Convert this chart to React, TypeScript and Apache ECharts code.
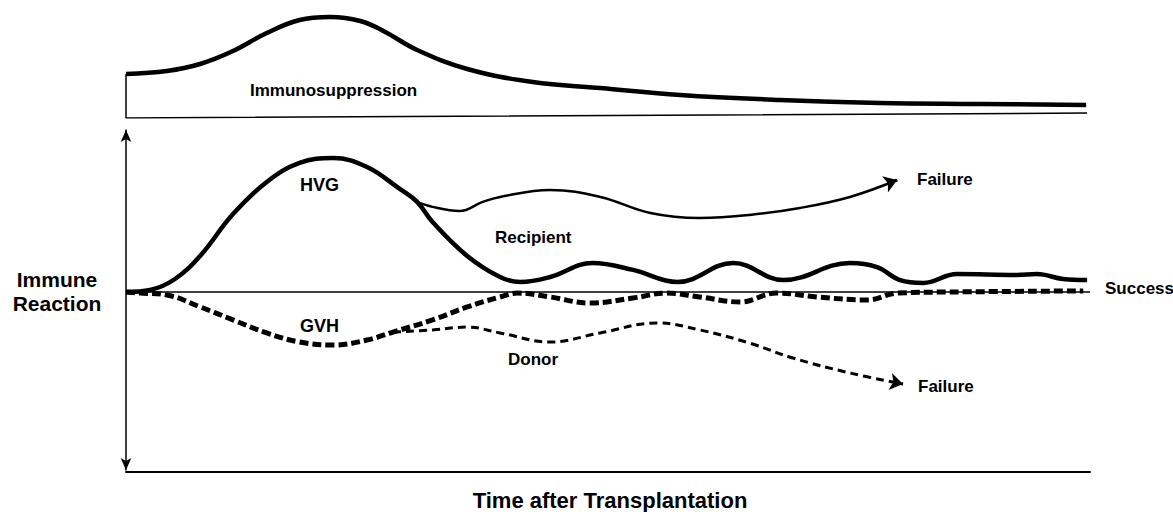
import React, { useEffect, useRef } from "react";
import * as echarts from "echarts";

// Time axis: 0..100 (arbitrary time after transplantation)
// Top panel: immunosuppression level 0..100
const immunoT = [0, 4.25, 7.68, 11.1, 14.6, 18.0, 21.2, 24.3, 26.7, 30.2, 35.4, 42.2, 49.2, 57.5, 67.8, 78.2, 88.6, 99.6];
const immunoV = [40.7, 43.5, 50, 62, 78.7, 90.7, 93.5, 89.8, 80.6, 63, 45.4, 33.3, 27.8, 21.3, 16.7, 13.9, 13, 12];

const topFrameT = [0, 0, 99.7];
const topFrameV = [40.7, 0, 4.6];

// Bottom panel: immune reaction (+ host-vs-graft, - graft-vs-host)
const baselineT = [0, 100];
const baselineV = [0, 0];

const hvgT = [0, 2.49, 5.08, 7.68, 11.1, 14.6, 18.0, 21.5, 25.0, 28.4, 30.2, 31.8, 35.4, 38.8, 40.9, 44.0, 48.4, 52.6, 57.2, 63.0, 68.2, 75.1, 77.9, 80.3, 82.7, 86.2, 92.4, 94.5, 97.2, 99.7];
const hvgV = [0, 1.1, 7.3, 20.2, 43.8, 61.8, 72.5, 75.3, 70.2, 57.9, 50.6, 39.3, 20.2, 8.4, 5.6, 8.4, 16.3, 12.4, 5.6, 16.3, 6.7, 16.3, 14, 6.7, 5.1, 10.1, 9.6, 10.1, 7.3, 6.7];

const recipientT = [30.2, 31.8, 34.6, 37.0, 38.8, 44.0, 49.2, 54.4, 59.5, 64.7, 69.9, 75.1, 80.0];
const recipientV = [50.6, 47.8, 45.5, 50.6, 53.4, 57.3, 53.4, 44.4, 41.6, 43.3, 47.2, 53.4, 62.9];
const recipientArrowT = [79.0, 80.0];
const recipientArrowV = [60.96, 62.9];

const gvhT = [0, 1.45, 4.25, 7.7, 11.1, 14.6, 18.0, 21.5, 25.0, 27.7, 31.8, 35.4, 38.8, 40.6, 44.0, 48.1, 52.6, 56.1, 59.5, 63.7, 67.5, 71.7, 76.9, 80.0, 85.5, 99.3];
const gvhV = [0, -0.6, -1.7, -8.4, -15.7, -23, -28.1, -29.8, -27, -22.5, -15.7, -8.4, -2.8, -0.6, -2.8, -6.2, -3.4, -0.6, -2.8, -5.6, -0.6, -2.8, -4.5, -0.6, 0, 0.6];

const donorT = [27.7, 31.8, 35.4, 38.8, 44.0, 49.2, 55.1, 59.5, 64.7, 69.2, 75.1, 80.6];
const donorV = [-22.5, -21.3, -19.7, -23, -28.1, -23, -17.4, -21.3, -28.7, -37.1, -45.5, -51.7];
const donorArrowT = [79.6, 80.6];
const donorArrowV = [-50.6, -51.7];

const zip = (t: number[], v: number[]) => t.map((x, i) => [x, v[i]]);

const FONT = '"Liberation Sans", Arial, Helvetica, sans-serif';

export default function App() {
  const ref = useRef<HTMLDivElement>(null);
  useEffect(() => {
    if (!ref.current) return;
    const chart = echarts.init(ref.current, null, { renderer: "svg" });
    const lineBase = (name: string, xi: number, data: number[][], width: number, type: any = "solid", smooth: any = 0.4, z = 3) => ({
      name,
      type: "line",
      xAxisIndex: xi,
      yAxisIndex: xi,
      data,
      smooth,
      showSymbol: false,
      symbol: "none",
      silent: true,
      z,
      lineStyle: { color: "#000", width, type },
    });
    const arrow = (t: number[], v: number[], width: number) => ({
      silent: true,
      symbol: ["none", "arrow"],
      symbolSize: 13,
      label: { show: false },
      lineStyle: { color: "#000", width, type: "solid" },
      data: [[{ coord: [t[0], v[0]] }, { coord: [t[1], v[1]] }]],
    });
    const recipient: any = lineBase("Recipient", 1, zip(recipientT, recipientV), 2.5);
    recipient.markLine = arrow(recipientArrowT, recipientArrowV, 2.5);
    const donor: any = lineBase("Donor", 1, zip(donorT, donorV), 3, [8, 5]);
    donor.markLine = arrow(donorArrowT, donorArrowV, 2.5);

    const txt = (text: string, x: number, y: number, size: number, align = "left") => ({
      type: "text",
      x,
      y,
      silent: true,
      style: {
        text,
        fill: "#000",
        font: `bold ${size}px ${FONT}`,
        align,
        verticalAlign: "middle",
        lineHeight: size + 3,
      },
    });

    chart.setOption({
      animation: false,
      backgroundColor: "#fff",
      grid: [
        { left: 126, right: 83, top: 10, height: 108 },
        { left: 126, right: 83, top: 130, height: 340 },
      ],
      xAxis: [
        { gridIndex: 0, type: "value", min: 0, max: 100, show: false },
        {
          gridIndex: 1,
          type: "value",
          min: 0,
          max: 100,
          offset: 2,
          axisLine: { show: true, onZero: false, lineStyle: { color: "#000", width: 2 } },
          axisTick: { show: false },
          axisLabel: { show: false },
          splitLine: { show: false },
        },
      ],
      yAxis: [
        { gridIndex: 0, type: "value", min: 0, max: 100, show: false },
        {
          gridIndex: 1,
          type: "value",
          min: -100,
          max: 91,
          axisLine: {
            show: true,
            onZero: false,
            symbol: ["arrow", "arrow"],
            symbolSize: [8, 12],
            lineStyle: { color: "#000", width: 1.5 },
          },
          axisTick: { show: false },
          axisLabel: { show: false },
          splitLine: { show: false },
        },
      ],
      series: [
        lineBase("Immunosuppression", 0, zip(immunoT, immunoV), 4.5),
        lineBase("Frame", 0, zip(topFrameT, topFrameV), 1.5, "solid", false, 2),
        lineBase("Baseline", 1, zip(baselineT, baselineV), 1.5, "solid", false, 1),
        lineBase("HVG", 1, zip(hvgT, hvgV), 4.5),
        recipient,
        lineBase("GVH", 1, zip(gvhT, gvhV), 5, [9, 4]),
        donor,
      ],
      graphic: [
        txt("Immunosuppression", 250, 90, 17),
        txt("HVG", 300, 185, 18),
        txt("Recipient", 495, 237, 17),
        txt("GVH", 300, 326, 18),
        txt("Donor", 508, 359, 17),
        txt("Failure", 917, 179, 17),
        txt("Failure", 918, 386, 17),
        txt("Success", 1105, 288, 17),
        txt("Immune\nReaction", 57, 291, 21, "center"),
        txt("Time after Transplantation", 610, 500, 22, "center"),
      ],
    });
    return () => chart.dispose();
  }, []);
  return <div ref={ref} style={{ position: "absolute", left: 0, top: 0, width: 1173, height: 512 }} />;
}
